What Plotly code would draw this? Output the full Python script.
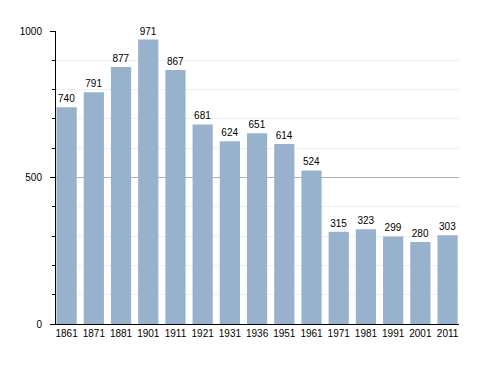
import plotly.graph_objects as go

years = ["1861", "1871", "1881", "1901", "1911", "1921", "1931", "1936",
         "1951", "1961", "1971", "1981", "1991", "2001", "2011"]
population = [740, 791, 877, 971, 867, 681, 624, 651, 614, 524, 315, 323, 299, 280, 303]
y_ticks = [0, 500, 1000]

positions = list(range(len(years)))

fig = go.Figure(
    go.Bar(
        x=positions,
        y=population,
        width=0.743,
        marker=dict(color="rgb(152,178,206)", line=dict(width=0)),
        text=[str(v) for v in population],
        textposition="outside",
        textfont=dict(size=10, color="black", family="Liberation Sans"),
        cliponaxis=False,
    )
)

fig.update_layout(
    width=480,
    height=365,
    margin=dict(l=42, r=29, t=23, b=49),
    paper_bgcolor="white",
    plot_bgcolor="white",
    showlegend=False,
    font=dict(family="Liberation Sans", size=10, color="black"),
    xaxis=dict(
        tickmode="array",
        tickvals=positions,
        ticktext=years,
        range=[-0.39, 14.42],
        showgrid=False,
        showline=True,
        linecolor="black",
        linewidth=1,
        ticks="",
        zeroline=False,
        tickfont=dict(size=10),
    ),
    yaxis=dict(
        range=[0, 1000],
        tickmode="array",
        tickvals=y_ticks,
        showgrid=True,
        gridcolor="#b0b0b0",
        gridwidth=1,
        showline=True,
        linecolor="black",
        linewidth=1,
        ticks="outside",
        ticklen=5,
        tickcolor="black",
        ticklabelstandoff=6,
        zeroline=False,
        tickfont=dict(size=10),
        minor=dict(
            dtick=100,
            tick0=0,
            showgrid=True,
            gridcolor="#eeeeee",
            ticks="outside",
            ticklen=3,
            tickcolor="black",
        ),
    ),
    bargap=0.25,
)

fig.write_html("out.html")
